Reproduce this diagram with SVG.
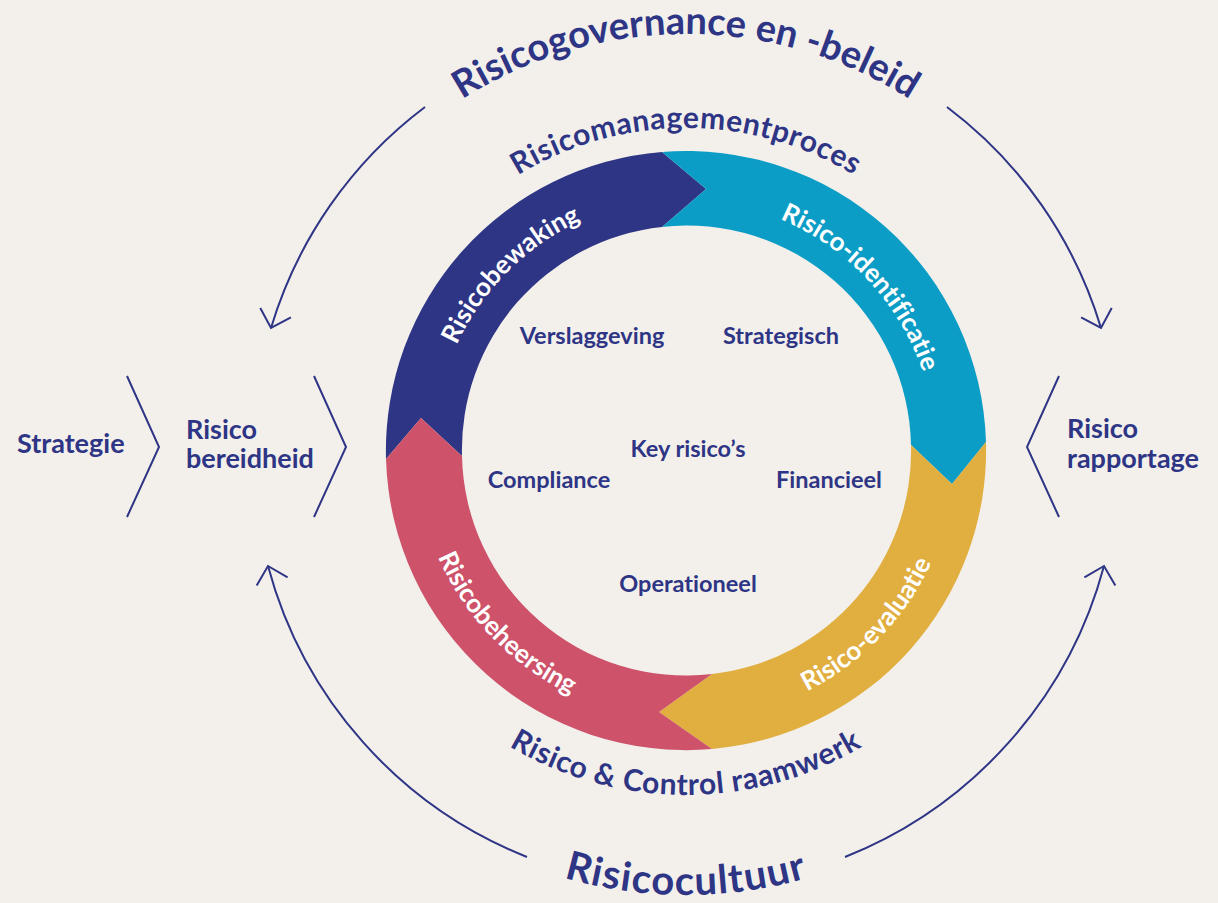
<svg xmlns="http://www.w3.org/2000/svg" xmlns:xlink="http://www.w3.org/1999/xlink" width="1218" height="903" viewBox="0 0 1218 903">
  <style>
    .bg { fill: #f3f0ec; }
    .navy { fill: #2e3585; }
    .cyan { fill: #0c9dc6; }
    .gold { fill: #e1ae40; }
    .rose { fill: #cd526a; }
    text { font-family: Lato, "Open Sans", "Liberation Sans", sans-serif; font-weight: 700; font-variant-ligatures: none; }
    .lbl { fill: #2e3585; font-size: 23.5px; }
    .side { fill: #2e3585; font-size: 27px; }
    .band { fill: #ffffff; font-size: 26px; }
    .arcmid { fill: #2e3585; font-size: 30px; letter-spacing: 0.6px; }
    .arcbig { fill: #2e3585; font-size: 38px; }
    .arccult { fill: #2e3585; font-size: 40px; letter-spacing: 1.2px; }
    .line { fill: none; stroke: #2e3585; stroke-width: 2; }
  </style>
  <defs>
    <marker id="open-head" markerUnits="userSpaceOnUse" viewBox="-20 -20 40 40" markerWidth="40" markerHeight="40" refX="0" refY="0" orient="auto">
      <path d="M-16,-16 L0,0 L-16,16" fill="none" stroke="#2e3585" stroke-width="2"/>
    </marker>
    <!-- text baselines, centred on the ring centre (686,450) -->
    <path id="p-bewaking" d="M505.7,630.3 A255,255 0 0 1 866.3,269.7"/>
    <path id="p-identificatie" d="M512.1,263.6 A255,255 0 0 1 859.9,636.4"/>
    <path id="p-evaluatie" d="M498.4,644.2 A270,270 0 0 0 873.6,255.8"/>
    <path id="p-beheersing" d="M498.4,255.8 A270,270 0 0 0 873.6,644.2"/>
    <path id="p-proces" d="M364,450 A322,322 0 0 1 1008,450"/>
    <path id="p-governance" d="M270,450 A416,416 0 0 1 1102,450"/>
    <path id="p-raamwerk" d="M341,450 A345,345 0 0 0 1031,450"/>
    <path id="p-cultuur" d="M241,450 A445,445 0 0 0 1131,450"/>
  </defs>

  <rect class="bg" x="0" y="0" width="1218" height="903"/>

  <!-- outer connectors -->
  <g id="connectors">
    <path class="line" d="M425,107 A432,432 0 0 0 271,328" marker-end="url(#open-head)"/>
    <path class="line" d="M947,107 A432,432 0 0 1 1101,328" marker-end="url(#open-head)"/>
    <path class="line" d="M527,857 A434,434 0 0 1 268,566" marker-end="url(#open-head)"/>
    <path class="line" d="M845,857 A434,434 0 0 0 1104,566" marker-end="url(#open-head)"/>
    <polyline class="line" points="127,376 159,447 127,517"/>
    <polyline class="line" points="314,376 346,447 314,517"/>
    <polyline class="line" points="1059,376 1027,447 1059,517"/>
  </g>

  <!-- ring segments -->
  <g id="risicobewaking">
    <path class="navy" d="M386,459 A300,300 0 0 1 662,152 L706,189 L662,227 A224,224 0 0 0 462,456 L421,418 Z"/>
    <text class="band"><textPath href="#p-bewaking" xlink:href="#p-bewaking" startOffset="50%" text-anchor="middle">Risicobewaking</textPath></text>
  </g>
  <g id="risico-identificatie">
    <path class="cyan" d="M662,152 A300,300 0 0 1 986,442 L952,484 L911,445 A224,224 0 0 0 662,227 L706,189 Z"/>
    <text class="band"><textPath href="#p-identificatie" xlink:href="#p-identificatie" startOffset="50%" text-anchor="middle">Risico-identificatie</textPath></text>
  </g>
  <g id="risico-evaluatie">
    <path class="gold" d="M986,442 A300,300 0 0 1 712,749 L659,712 L712,674 A224,224 0 0 0 911,445 L952,484 Z"/>
    <text class="band"><textPath href="#p-evaluatie" xlink:href="#p-evaluatie" startOffset="50%" text-anchor="middle">Risico-evaluatie</textPath></text>
  </g>
  <g id="risicobeheersing">
    <path class="rose" d="M712,749 A300,300 0 0 1 386,459 L421,418 L462,456 A224,224 0 0 0 712,674 L659,712 Z"/>
    <text class="band"><textPath href="#p-beheersing" xlink:href="#p-beheersing" startOffset="50%" text-anchor="middle">Risicobeheersing</textPath></text>
  </g>

  <!-- curved headings -->
  <g id="risicomanagementproces">
    <text class="arcmid"><textPath href="#p-proces" xlink:href="#p-proces" startOffset="50%" text-anchor="middle">Risicomanagementproces</textPath></text>
  </g>
  <g id="risicogovernance">
    <text class="arcbig"><textPath href="#p-governance" xlink:href="#p-governance" startOffset="50%" text-anchor="middle">Risicogovernance en -beleid</textPath></text>
  </g>
  <g id="raamwerk">
    <text class="arcmid"><textPath href="#p-raamwerk" xlink:href="#p-raamwerk" startOffset="50%" text-anchor="middle">Risico &amp; Control raamwerk</textPath></text>
  </g>
  <g id="risicocultuur">
    <text class="arccult"><textPath href="#p-cultuur" xlink:href="#p-cultuur" startOffset="50%" text-anchor="middle">Risicocultuur</textPath></text>
  </g>

  <!-- risk categories -->
  <g id="key-risicos">
    <text class="lbl" x="688" y="457" text-anchor="middle">Key risico’s</text>
  </g>
  <g id="verslaggeving"><text class="lbl" x="592" y="344" text-anchor="middle">Verslaggeving</text></g>
  <g id="strategisch"><text class="lbl" x="781" y="344" text-anchor="middle">Strategisch</text></g>
  <g id="compliance"><text class="lbl" x="549" y="488" text-anchor="middle">Compliance</text></g>
  <g id="financieel"><text class="lbl" x="829" y="488" text-anchor="middle">Financieel</text></g>
  <g id="operationeel"><text class="lbl" x="688" y="592" text-anchor="middle">Operationeel</text></g>

  <!-- side steps -->
  <g id="strategie"><text class="side" x="17" y="453">Strategie</text></g>
  <g id="risicobereidheid">
    <text class="side" x="186" y="439">Risico</text>
    <text class="side" x="186" y="468">bereidheid</text>
  </g>
  <g id="risicorapportage">
    <text class="side" x="1067" y="438">Risico</text>
    <text class="side" x="1067" y="468">rapportage</text>
  </g>
</svg>
